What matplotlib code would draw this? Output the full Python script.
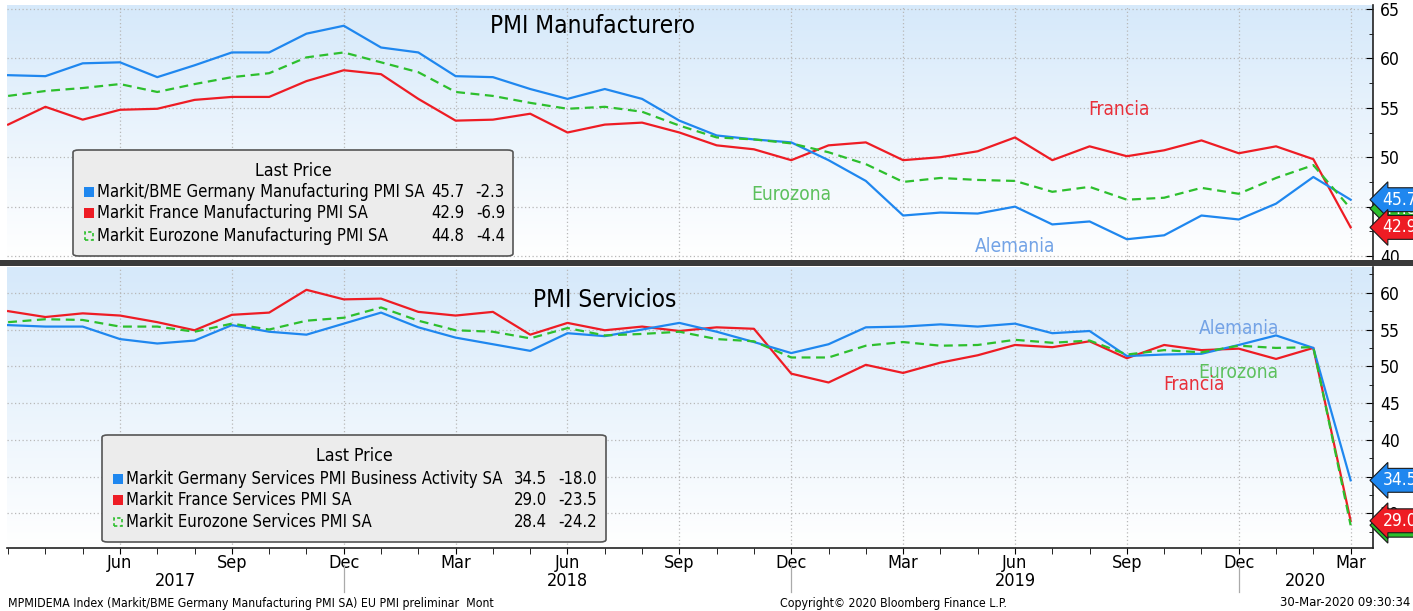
import numpy as np
import matplotlib.pyplot as plt
from matplotlib import font_manager
from matplotlib.colors import LinearSegmentedColormap
from matplotlib.patches import FancyBboxPatch, Rectangle
from matplotlib.transforms import blended_transform_factory

# Bloomberg charts use a narrow face; take DejaVu Sans Condensed when it is there
has_cond = any('DejaVuSansCondensed' in f.fname for f in font_manager.fontManager.ttflist)
plt.rcParams['font.family'] = ['DejaVu Sans']
if has_cond:
    plt.rcParams['font.stretch'] = 'condensed'
S = 1.0 if has_cond else 0.86

# monthly PMI readings, Mar 2017 .. Mar 2020
months = ['Mar', 'Apr', 'May', 'Jun', 'Jul', 'Aug', 'Sep', 'Oct', 'Nov', 'Dec',
          'Jan', 'Feb', 'Mar', 'Apr', 'May', 'Jun', 'Jul', 'Aug', 'Sep', 'Oct', 'Nov', 'Dec',
          'Jan', 'Feb', 'Mar', 'Apr', 'May', 'Jun', 'Jul', 'Aug', 'Sep', 'Oct', 'Nov', 'Dec',
          'Jan', 'Feb', 'Mar']
de_mfg = [58.3, 58.2, 59.5, 59.6, 58.1, 59.3, 60.6, 60.6, 62.5, 63.3,
          61.1, 60.6, 58.2, 58.1, 56.9, 55.9, 56.9, 55.9, 53.7, 52.2, 51.8, 51.5,
          49.7, 47.6, 44.1, 44.4, 44.3, 45.0, 43.2, 43.5, 41.7, 42.1, 44.1, 43.7,
          45.3, 48.0, 45.7]
fr_mfg = [53.3, 55.1, 53.8, 54.8, 54.9, 55.8, 56.1, 56.1, 57.7, 58.8,
          58.4, 55.9, 53.7, 53.8, 54.4, 52.5, 53.3, 53.5, 52.5, 51.2, 50.8, 49.7,
          51.2, 51.5, 49.7, 50.0, 50.6, 52.0, 49.7, 51.1, 50.1, 50.7, 51.7, 50.4,
          51.1, 49.8, 42.9]
ez_mfg = [56.2, 56.7, 57.0, 57.4, 56.6, 57.4, 58.1, 58.5, 60.1, 60.6,
          59.6, 58.6, 56.6, 56.2, 55.5, 54.9, 55.1, 54.6, 53.2, 52.0, 51.8, 51.4,
          50.5, 49.3, 47.5, 47.9, 47.7, 47.6, 46.5, 47.0, 45.7, 45.9, 46.9, 46.3,
          47.9, 49.2, 44.8]
de_srv = [55.6, 55.4, 55.4, 53.7, 53.1, 53.5, 55.6, 54.7, 54.3, 55.8,
          57.3, 55.3, 53.9, 53.0, 52.1, 54.5, 54.1, 55.0, 55.9, 54.7, 53.3, 51.8,
          53.0, 55.3, 55.4, 55.7, 55.4, 55.8, 54.5, 54.8, 51.4, 51.6, 51.7, 52.9,
          54.2, 52.5, 34.5]
fr_srv = [57.5, 56.7, 57.2, 56.9, 56.0, 54.9, 57.0, 57.3, 60.4, 59.1,
          59.2, 57.4, 56.9, 57.4, 54.3, 55.9, 54.9, 55.4, 54.8, 55.3, 55.1, 49.0,
          47.8, 50.2, 49.1, 50.5, 51.5, 52.9, 52.6, 53.4, 51.1, 52.9, 52.2, 52.4,
          51.0, 52.5, 29.0]
ez_srv = [56.0, 56.4, 56.3, 55.4, 55.4, 54.7, 55.8, 55.0, 56.2, 56.6,
          58.0, 56.2, 54.9, 54.7, 53.8, 55.2, 54.2, 54.4, 54.7, 53.7, 53.4, 51.2,
          51.2, 52.8, 53.3, 52.8, 52.9, 53.6, 53.2, 53.5, 51.6, 52.2, 51.9, 52.8,
          52.5, 52.6, 28.4]
years = ['2017', '2018', '2019', '2020']
year_ends = [9, 21, 33]

mfg_names = ['Markit/BME Germany Manufacturing PMI SA',
             'Markit France Manufacturing PMI SA',
             'Markit Eurozone Manufacturing PMI SA']
mfg_chg = ['-2.3', '-6.9', '-4.4']
srv_names = ['Markit Germany Services PMI Business Activity SA',
             'Markit France Services PMI SA',
             'Markit Eurozone Services PMI SA']
srv_chg = ['-18.0', '-23.5', '-24.2']

BLUE = '#1f87ef'
RED = '#ee1c24'
GREEN = '#2dbf2d'

W, H = 1413, 611
fig = plt.figure(figsize=(W / 100, H / 100), dpi=100)


def fx(x):
    return x / W


def fy(y):
    return 1 - y / H


ax1 = fig.add_axes([fx(7), fy(260), fx(1373) - fx(7), fy(5) - fy(260)])
ax2 = fig.add_axes([fx(7), fy(548), fx(1373) - fx(7), fy(267) - fy(548)])

x = np.arange(len(months))
quarters = [i for i in x if months[i] in ('Mar', 'Jun', 'Sep', 'Dec') and i > 0]
grad = LinearSegmentedColormap.from_list('bg', ['#ffffff', '#d6e9fa'])

for ax, lims, ticks in [(ax1, (39.6, 65.4), range(40, 70, 5)),
                        (ax2, (25.3, 63.5), range(30, 65, 5))]:
    ax.imshow(np.linspace(0, 1, 100).reshape(-1, 1), extent=[0, 1, 0, 1],
              transform=ax.transAxes, aspect='auto', cmap=grad, origin='lower', zorder=0)
    ax.set_xlim(-0.03, 36.6)
    ax.set_ylim(*lims)
    ax.set_yticks(list(ticks))
    ax.set_yticks(np.arange(lims[0] // 2.5 * 2.5 + 2.5, lims[1], 2.5), minor=True)
    ax.yaxis.tick_right()
    ax.tick_params(axis='y', which='major', direction='in', length=5, labelsize=12.5 * S, pad=5)
    ax.tick_params(axis='y', which='minor', direction='in', length=3)
    ax.set_xticks(quarters)
    ax.grid(True, which='major', color='#b8b8b8', linestyle=(0, (1, 2)), linewidth=0.9)
    for s in ['top', 'left']:
        ax.spines[s].set_visible(False)
    ax.spines['right'].set_color('#222222')
    ax.spines['right'].set_linewidth(1.2)

ax1.tick_params(axis='x', length=0, labelbottom=False)
ax1.spines['bottom'].set_visible(False)

ax2.set_xticks(x, minor=True)
ax2.set_xticklabels([months[i] for i in quarters], fontsize=13 * S)
ax2.tick_params(axis='x', which='major', direction='out', length=4, pad=0)
ax2.tick_params(axis='x', which='minor', direction='out', length=4)
ax2.spines['bottom'].set_color('#222222')
ax2.spines['bottom'].set_linewidth(1.2)

# thick separator between the panels
fig.patches.append(Rectangle((0, fy(266)), 1, fy(260) - fy(266), transform=fig.transFigure,
                             facecolor='#3a3a3a', edgecolor='none'))

# series
ax1.plot(x, fr_mfg, color=RED, lw=1.6, zorder=3)
ax1.plot(x, de_mfg, color=BLUE, lw=1.6, zorder=3)
ax1.plot(x, ez_mfg, color=GREEN, lw=1.6, dashes=(4, 2.5), zorder=4)
ax2.plot(x, fr_srv, color=RED, lw=1.6, zorder=3)
ax2.plot(x, de_srv, color=BLUE, lw=1.6, zorder=3)
ax2.plot(x, ez_srv, color=GREEN, lw=1.6, dashes=(4, 2.5), zorder=4)

# titles and country labels
fig.text(fx(593), fy(26), 'PMI Manufacturero', fontsize=17.5 * S, ha='center', va='center')
fig.text(fx(605), fy(300), 'PMI Servicios', fontsize=17.5 * S, ha='center', va='center')
lab = 13.8 * S
ax1.text(29.8, 54.8, 'Francia', color='#e8303a', fontsize=lab, ha='center', va='center', zorder=5)
ax1.text(21.0, 46.2, 'Eurozona', color='#5cc05c', fontsize=lab, ha='center', va='center', zorder=5)
ax1.text(27.0, 41.0, 'Alemania', color='#73a3e6', fontsize=lab, ha='center', va='center', zorder=5)
ax2.text(33.0, 55.2, 'Alemania', color='#73a3e6', fontsize=lab, ha='center', va='center', zorder=5)
ax2.text(33.0, 49.1, 'Eurozona', color='#5cc05c', fontsize=lab, ha='center', va='center', zorder=5)
ax2.text(31.8, 47.5, 'Francia', color='#e8303a', fontsize=lab, ha='center', va='center', zorder=5)


# last value tags on the right axis
def tag(ax, val, color):
    ax.annotate(f'{val:.1f}', xy=(1.0, val), xycoords=ax.get_yaxis_transform(),
                xytext=(7, 0), textcoords='offset points', ha='left', va='center',
                fontsize=12.5 * S, color='white', zorder=10, annotation_clip=False,
                bbox=dict(boxstyle='larrow,pad=0.17', facecolor=color, edgecolor='#1a1a1a', lw=0.8))


tag(ax1, ez_mfg[-1], GREEN)
tag(ax1, de_mfg[-1], BLUE)
tag(ax1, fr_mfg[-1], RED)
tag(ax2, ez_srv[-1], GREEN)
tag(ax2, fr_srv[-1], RED)
tag(ax2, de_srv[-1], BLUE)


# legend boxes
def legend_box(x0, y0, x1, y1, names, last, chg, name_x, val_x, chg_x, rows):
    fs = 12.0 * S
    fig.patches.append(FancyBboxPatch((fx(x0), fy(y1)), fx(x1) - fx(x0), fy(y0) - fy(y1),
                                      boxstyle='round,pad=0,rounding_size=0.004',
                                      transform=fig.transFigure, facecolor='#ececec',
                                      edgecolor='#555555', lw=1.2, zorder=6))
    fig.text(fx((x0 + x1) / 2), fy(y0 + 21), 'Last Price', fontsize=fs + 0.7,
             ha='center', va='center', zorder=7)
    for i, (nm, v, c) in enumerate(zip(names, last, chg)):
        yy = rows[i]
        col = [BLUE, RED, GREEN][i]
        if i < 2:
            fig.patches.append(Rectangle((fx(name_x - 13), fy(yy + 5)), fx(10), fy(0) - fy(10),
                                         transform=fig.transFigure, facecolor=col,
                                         edgecolor='none', zorder=7))
        else:
            fig.patches.append(Rectangle((fx(name_x - 12), fy(yy + 4)), fx(8), fy(0) - fy(8),
                                         transform=fig.transFigure, facecolor='none',
                                         edgecolor=col, lw=1.2, linestyle=(0, (2, 1.5)), zorder=7))
        fig.text(fx(name_x), fy(yy), nm, fontsize=fs, ha='left', va='center', zorder=7)
        fig.text(fx(val_x), fy(yy), f'{v:.1f}', fontsize=fs, ha='right', va='center', zorder=7)
        fig.text(fx(chg_x), fy(yy), c, fontsize=fs, ha='right', va='center', zorder=7)


legend_box(73, 150, 513, 256, mfg_names, [de_mfg[-1], fr_mfg[-1], ez_mfg[-1]], mfg_chg,
           97, 464, 505, [192, 213, 236])
legend_box(102, 435, 606, 542, srv_names, [de_srv[-1], fr_srv[-1], ez_srv[-1]], srv_chg,
           126, 547, 597, [479, 500, 522])

# year labels and separators
bt = blended_transform_factory(ax2.transData, ax2.transAxes)
for i in year_ends:
    ax2.plot([i, i], [-0.06, -0.155], color='#aaaaaa', lw=0.9, transform=bt, clip_on=False)
bounds = [-0.03] + year_ends + [36.6]
for k, yr in enumerate(years):
    ax2.text((bounds[k] + bounds[k + 1]) / 2, -0.117, yr, transform=bt, fontsize=13 * S,
             ha='center', va='center')

# footer
fs_foot = 8.8 * S
fig.text(fx(8), fy(603), 'MPMIDEMA Index (Markit/BME Germany Manufacturing PMI SA) EU PMI preliminar  Mont',
         fontsize=fs_foot, ha='left', va='center')
fig.text(fx(780), fy(603), 'Copyright\u00a9 2020 Bloomberg Finance L.P.', fontsize=fs_foot, ha='left', va='center')
fig.text(fx(1410), fy(603), '30-Mar-2020 09:30:34', fontsize=fs_foot + 0.6, ha='right', va='center')

fig.savefig('out.png', dpi=100)
